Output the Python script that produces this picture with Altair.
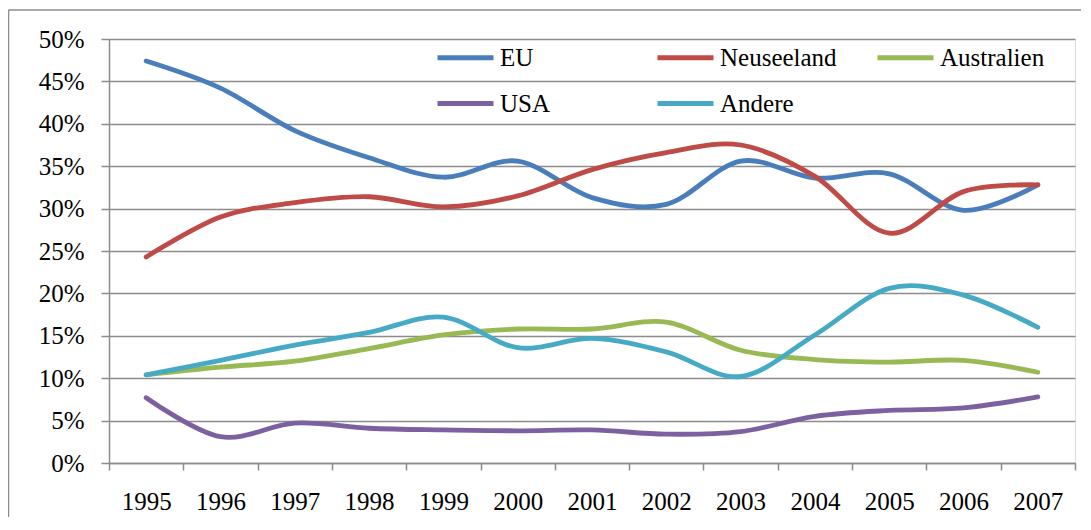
import altair as alt
import pandas as pd

years = ["1995", "1996", "1997", "1998", "1999", "2000", "2001",
         "2002", "2003", "2004", "2005", "2006", "2007"]
series_names = ["EU", "Neuseeland", "Australien", "USA", "Andere"]
colors = ["#4A7EBB", "#BE4B48", "#98B954", "#7D60A0", "#46AAC5"]

eu = [47.4, 44.2, 39.2, 36.0, 33.7, 35.6, 31.3, 30.5, 35.6, 33.6, 34.1, 29.8, 32.8]
neuseeland = [24.3, 29.0, 30.7, 31.4, 30.2, 31.5, 34.6, 36.6, 37.5, 33.8, 27.1, 32.0, 32.8]
australien = [10.4, 11.3, 12.0, 13.5, 15.1, 15.8, 15.8, 16.6, 13.3, 12.2, 11.9, 12.1, 10.7]
usa = [7.7, 3.1, 4.7, 4.1, 3.9, 3.8, 3.9, 3.4, 3.7, 5.5, 6.2, 6.5, 7.8]
andere = [10.4, 12.1, 13.9, 15.4, 17.2, 13.6, 14.7, 13.1, 10.2, 15.1, 20.6, 19.8, 16.0]

series_values = [eu, neuseeland, australien, usa, andere]
rows = []
for name, vals in zip(series_names, series_values):
    for y, v in zip(years, vals):
        rows.append({"Jahr": y, "Serie": name, "Anteil": v / 100.0})
df = pd.DataFrame(rows)

FONT = "Liberation Serif"
GRAY = "#8C8C8C"

lines = alt.Chart(df).mark_line(
    interpolate="cardinal", strokeWidth=4.8, strokeCap="round", strokeJoin="round"
).encode(
    x=alt.X("Jahr:O", sort=years,
            scale=alt.Scale(type="band", paddingInner=0, paddingOuter=0),
            axis=alt.Axis(title=None, labelAngle=0, tickBand="extent", grid=False,
                          domainColor=GRAY, tickColor=GRAY, tickSize=7,
                          labelPadding=19, labelFont=FONT, labelFontSize=25,
                          labelColor="black", domainWidth=1.5, tickWidth=1.5)),
    y=alt.Y("Anteil:Q",
            scale=alt.Scale(domain=[0, 0.5], nice=False),
            axis=alt.Axis(title=None, format=".0%",
                          values=[0, 0.05, 0.1, 0.15, 0.2, 0.25, 0.3, 0.35, 0.4, 0.45, 0.5],
                          grid=True, gridColor=GRAY, gridWidth=1.5,
                          domainColor=GRAY, tickColor=GRAY, tickSize=8,
                          domainWidth=1.5, tickWidth=1.5,
                          labelPadding=17, labelFont=FONT, labelFontSize=25,
                          labelColor="black")),
    color=alt.Color("Serie:N", sort=series_names,
                    scale=alt.Scale(domain=series_names, range=colors),
                    legend=alt.Legend(title=None, orient="none", legendX=326, legendY=6,
                                      direction="horizontal",
                                      columns=3, gridAlign="all", columnPadding=38,
                                      rowPadding=20, clipHeight=25,
                                      symbolType="stroke", symbolSize=3136,
                                      symbolStrokeWidth=5, labelOffset=4,
                                      labelFont=FONT, labelFontSize=25,
                                      labelColor="black", padding=0,
                                      labelLimit=300)),
)

frame_df = pd.DataFrame({"f": [0]})
frame_top = alt.Chart(frame_df).mark_rule(color=GRAY, strokeWidth=1.5).encode(
    x=alt.value(-100.5), x2=alt.value(3000), y=alt.value(-29)
)
frame_left = alt.Chart(frame_df).mark_rule(color=GRAY, strokeWidth=1.5).encode(
    x=alt.value(-100.5), y=alt.value(-29), y2=alt.value(3000)
)

chart = alt.layer(frame_top, frame_left, lines).properties(
    width=966, height=424,
    padding={"left": 101, "top": 31, "right": 6, "bottom": 54},
    autosize=alt.AutoSizeParams(type="none"),
).configure_view(stroke=None).configure(background="white", font=FONT)

chart.save("out.html", embed_options={"renderer": "svg", "actions": False})
